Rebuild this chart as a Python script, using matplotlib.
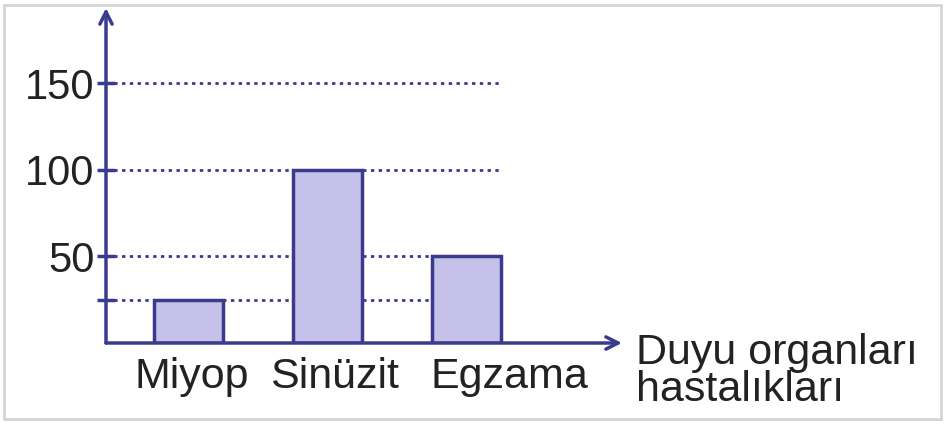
import numpy as np
import matplotlib.pyplot as plt
from matplotlib.patches import Rectangle

plt.rcParams['font.family'] = ['Liberation Sans', 'DejaVu Sans']

categories = ['Miyop', 'Sinüzit', 'Egzama']
values = [25, 100, 50]
yticks = [25, 50, 100, 150]
ytick_labels = ['', '50', '100', '150']
xlabel = 'Duyu organları\nhastalıkları'

navy = '#3a3a8e'
fill = '#c6c1e8'
txt = '#222222'

W, H = 946, 424
fig = plt.figure(figsize=(W / 100, H / 100), dpi=100)
# axes box in pixels: left 106, right 622, bottom 343, top 8
ax = fig.add_axes([106 / W, (H - 343) / H, (622 - 106) / W, (343 - 8) / H])

x = np.arange(len(categories))
ax.set_xlim(-0.594, 3.12)
ax.set_ylim(0, 193.6)

# dotted guide lines, behind the bars
for yv in yticks:
    ax.plot([-0.594, 2.25], [yv, yv], color=navy, lw=2, ls=(0, (1.2, 1.6)), zorder=1)

ax.bar(x, values, width=0.5, color=fill, edgecolor=navy, linewidth=2.5, zorder=2)

for s in ax.spines.values():
    s.set_visible(False)

# axis arrows
ax.annotate('', xy=(0, 1.0), xytext=(0, 0), xycoords='axes fraction',
            arrowprops=dict(arrowstyle='->', color=navy, lw=2.5, mutation_scale=22,
                            shrinkA=0, shrinkB=0))
ax.annotate('', xy=(1.0, 0), xytext=(0, 0), xycoords='axes fraction',
            arrowprops=dict(arrowstyle='->', color=navy, lw=2.5, mutation_scale=22,
                            shrinkA=0, shrinkB=0))

ax.set_yticks(yticks)
ax.set_yticklabels(ytick_labels, fontsize=30, color=txt)
ax.tick_params(axis='y', direction='inout', length=13, width=2.5, color=navy, pad=2)

ax.set_xticks([])
label_shift = [0.02, 0.05, 0.31]
for xi, lab, sh in zip(x, categories, label_shift):
    ax.text(xi + sh, -8, lab, ha='center', va='top', fontsize=31, color=txt)

ax.text(3.22, 6, xlabel, ha='left', va='top', fontsize=31, color=txt,
        linespacing=0.92, clip_on=False)

fig.patches.append(Rectangle((4 / W, 5 / H), (W - 9) / W, (H - 10) / H,
                             transform=fig.transFigure, fill=False,
                             edgecolor='#d4d4d4', lw=2))

fig.savefig('out.png', dpi=100)
